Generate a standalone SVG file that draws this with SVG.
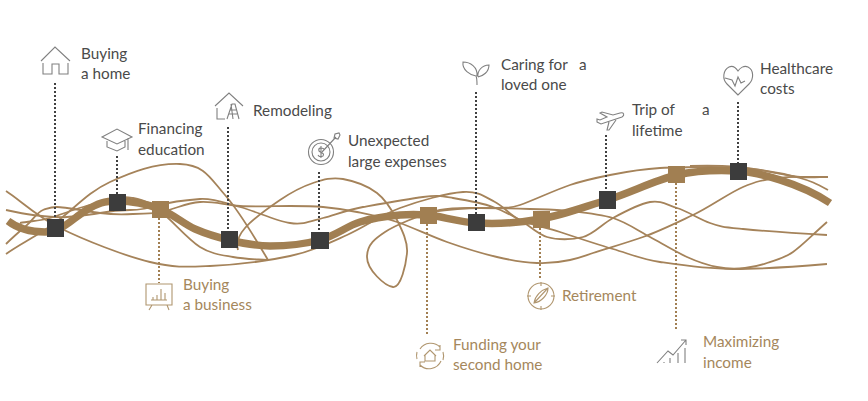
<svg xmlns="http://www.w3.org/2000/svg" width="868" height="401" viewBox="0 0 868 401">
<style>
text{font-family:"Lato","Carlito","Liberation Sans",sans-serif;font-size:15.3px}
.d{fill:#4A4A4A}.g{fill:#A5875C}
.thin{fill:none;stroke:#A5835A;stroke-width:1.8}
.thick{fill:none;stroke:#A17F52;stroke-width:7.5}
.dotd{stroke:#404040;stroke-width:2;stroke-dasharray:2 2;fill:none}
.dotg{stroke:#A17F52;stroke-width:2;stroke-dasharray:2 2;fill:none}
.sd{fill:#3C3C3C}.sg{fill:#A17F52}
.id{fill:none;stroke:#808080;stroke-width:1.1}
.ig{fill:none;stroke:#B0966F;stroke-width:1.1}
</style>
<rect width="868" height="401" fill="#fff"/>
<g id="connectors">
<path class="thin" d="M6,191 C20,200 36,216 60,228 S125,256 150,262 S187,267 210,266 S267,261 290,256 S329,243 347,235 S381,215 400,208 S447,193 463,192 S485,197 495,202 S509,215 520,220 S545,227 560,232 S596,244 613,249 S640,259 660,262 S705,269 733,269 S780,268 827,264"/>
<path class="thin" d="M6,254 C20,244 37,236 55,223 S88,192 110,182 S155,163 180,164 S210,178 225,195 S255,238 268,260"/>
<path class="thin" d="M6,244 C13,237 20,231 27,225 S37,212 43,210 S50,207 57,207 S85,211 100,213 S120,215 133,214 S150,215 165,211 S187,203 200,202 S225,205 240,206 S276,206 290,206 S312,206 323,207 S345,209.5 357,212 S382,217 397,222 S430,236 447,242 S482,253.5 497,257 S525,262.5 537,263 S561,262 570,260 S581,257 593,253 S626,243 643,237 S676,223 693,215 S729,193 743,187 S763,180 777,178 S800,177 827,177"/>
<path class="thin" d="M6,210 C15,212 24,214 33,215 S55,218 67,217 S90,215 100,213 S120,210 130,210 S150,208 160,205 S187,200 200,199 S225,203 240,207 S276,221 290,223 S311,221 323,218 S346,210 363,207 S408,199 423,197 S441,196 453,198 S482,203 493,207 S511,215 520,220 S537,234 547,237 S572,240 583,237 S602,224 613,218 S639,204 650,202 S667,205 677,208 S699,219 710,223 S723,227 743,229 S790,233 827,235"/>
<path class="thin" d="M20,223 C30,221 40,221 50,218 S72,210 83,207 S109,199.5 117,198 S127,197 133,198 S147,202 153,205 S159,210 167,217 S189,240 200,247 S222,255 233,257 S250,259 267,260"/>
<path class="thin" d="M238,250 C236,243 238,236 245,228 S269,207.5 280,200 S302.5,186.5 313,183 S332,177 343,179 S368,186 377,193 S392,210 397,220 S408,242 407,253 S401,288 393,287 S367,270 367,257 S376,238 385,232 S421,214 440,210 S484,209 497,208 S508,209 520,205 S555,190 570,185 S595,178 610,175 S643,169 660,168 S693,167 710,167 S745,168 760,170 S789,175 800,178 S815,183 828,190"/>
<path class="thin" d="M430,212 C445,210 465,208 480,208 S515,208.5 530,209 S556,209.5 570,211 S600,214 613,218 S638,230.5 650,237 S676,252 687,257 S707,265 717,267 S737,269 745,268 S759,266 767,263 S783,259 793,252 S810,237 827,222"/>
<path class="thin" d="M690,166 C720,165 745,167 760,170 S790,176 800,177 S820,177 828,177"/>
<path class="thick" d="M8,221 C17,228 28,232 45,232 S72,219 85,211 S104.5,201 117,201 S147,204 160,209 S183.5,224 195,229 S216.5,237 229,240 S255,246 270,246 S305,244 320,240 S347,226 360,222 S389,216 400,215 S415,214 428,215 S458,222 477,223 S519,223 541,219 S584,207 607,200 S655,180 677,175 S719,170 738,171 S800,183 830,203"/>
<path class="dotd" d="M55,83V220M117,156V195M228,127V232M319,172V233M476,92V215M606,135V192M738,102V164"/>
<path class="dotg" d="M159,218V283M427,224V336M540,228V279M676,183V330"/>
</g>
<g id="node-buying-home">
<rect class="sd" x="47" y="219" width="17" height="18"/>
<path class="id" d="M41,61L55,47L70,61M43,63V74H52V64H59V74H68V63"/>
<text class="d"><tspan x="81" y="59">Buying</tspan><tspan x="81" y="79">a home</tspan></text>
</g>
<g id="node-financing-education">
<rect class="sd" x="109" y="194" width="17" height="17"/>
<path class="id" d="M102,137L117,129L132,137L117,144ZM107,141V147L117,151L125,147V141M128,138V150"/>
<text class="d"><tspan x="138" y="134">Financing</tspan><tspan x="138" y="155">education</tspan></text>
</g>
<g id="node-buying-business">
<rect class="sg" x="152" y="201" width="17" height="17"/>
<path class="ig" d="M146,284H172V305H146ZM152,305L149,310M167,305L169,310M151,300H167M153,300V297M157,300V295M161,300V289M165,300V293"/>
<text class="g"><tspan x="183" y="290">Buying</tspan><tspan x="183" y="310">a business</tspan></text>
</g>
<g id="node-remodeling">
<rect class="sd" x="221" y="231" width="17" height="17"/>
<path class="id" d="M215,106L229,93L243,106M217,108V119H225M227,119L232,104H235L239,119M231,104L233,119M230,110H236M229,114H237"/>
<text class="d" x="253" y="116">Remodeling</text>
</g>
<g id="node-unexpected">
<rect class="sd" x="311" y="232" width="18" height="17"/>
<path class="id" d="M322,152L336,137M335,134L334,138L338,139L340,135L339,133Z"/>
<circle class="id" cx="321" cy="152" r="12.5"/>
<circle class="id" cx="321" cy="152" r="9"/>
<path class="id" d="M324,149C321,147 318,148 319,151C321,153 325,153 323,156C321,157 319,157 318,155M321,146V158"/>
<text class="d"><tspan x="348" y="146">Unexpected</tspan><tspan x="348" y="167">large expenses</tspan></text>
</g>
<g id="node-funding">
<rect class="sg" x="420" y="207" width="17" height="17"/>
<path class="ig" d="M420,349A13,13 0 0 1 440,347M440,345V350H435M441,361A13,13 0 0 1 420,365M420,367V362H425M417,359A13,13 0 0 1 417,352M443,352A13,13 0 0 1 443,360M424,356L430,350L436,356M425,355V361H435V355"/>
<text class="g"><tspan x="453" y="350">Funding your</tspan><tspan x="453" y="370">second home</tspan></text>
</g>
<g id="node-caring">
<rect class="sd" x="468" y="214" width="17" height="17"/>
<path class="id" d="M477,85C477,80 477,78 476,76C470,75 462,70 463,62C470,62 478,67 477,76M478,77C483,76 489,72 489,65C482,65 477,71 478,77"/>
<text class="d"><tspan x="501" y="70">Caring for</tspan><tspan x="579" y="70">a</tspan><tspan x="501" y="90">loved one</tspan></text>
</g>
<g id="node-retirement">
<rect class="sg" x="533" y="211" width="17" height="17"/>
<circle class="ig" cx="541" cy="296" r="13"/>
<path class="ig" d="M541,282V286M541,306V310M527,296H531M551,296H555M534,303C535,296 541,290 548,288C548,295 541,302 534,303ZM534,303L548,288"/>
<text class="g" x="562" y="301">Retirement</text>
</g>
<g id="node-trip">
<rect class="sd" x="599" y="191" width="17" height="18"/>
<path class="id" d="M597,122L601,124L622,117C625,115 624,112 620,113L613,115L602,112L600,113L607,117L600,120L597,119ZM609,122L607,130L609,130L616,120"/>
<text class="d"><tspan x="632" y="115">Trip of</tspan><tspan x="702" y="115">a</tspan><tspan x="632" y="136">lifetime</tspan></text>
</g>
<g id="node-maximizing">
<rect class="sg" x="668" y="166" width="17" height="17"/>
<path class="id" d="M657,363L668,351L673,355L686,340M681,340H686V345M670,358V363M678,353V363M685,348V363M664,362V363"/>
<text class="g"><tspan x="703" y="347">Maximizing</tspan><tspan x="703" y="368">income</tspan></text>
</g>
<g id="node-healthcare">
<rect class="sd" x="730" y="163" width="17" height="17"/>
<path class="id" d="M738,95L727,84C722,79 723,70 729,67C733,65 736,68 738,71C740,68 744,65 748,67C754,70 754,79 749,84ZM725,78L732,80L735,86L738,77L741,83L745,81"/>
<text class="d"><tspan x="760" y="74">Healthcare</tspan><tspan x="760" y="94">costs</tspan></text>
</g>
</svg>
